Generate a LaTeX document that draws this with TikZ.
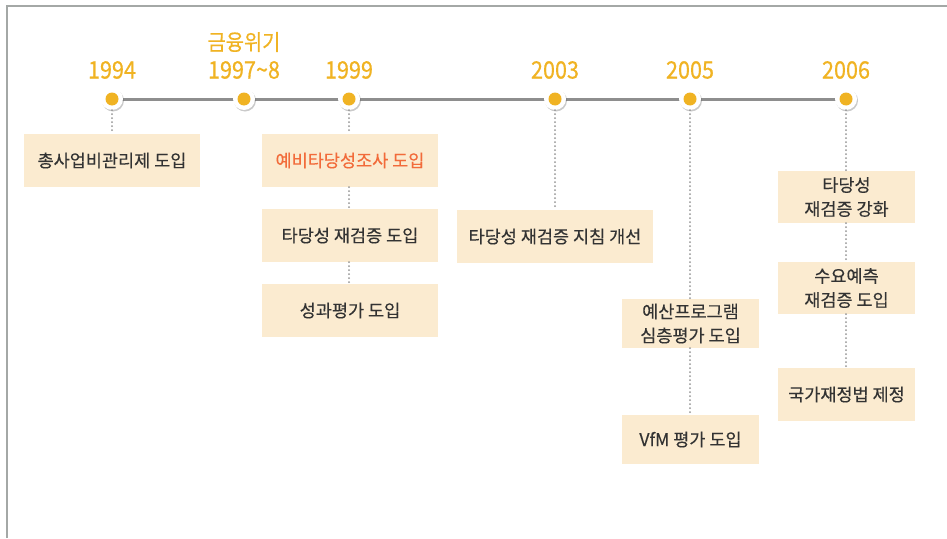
\documentclass[tikz,border=0pt]{standalone}
\usepackage{fontspec}
\setmainfont{Noto Sans CJK KR}
\newfontfamily\yearfont[FakeBold=0.6,FakeStretch=0.9]{Noto Sans CJK KR}
\newfontfamily\boxfont[FakeBold=0.3]{Noto Sans CJK KR}
\usetikzlibrary{shadows}
\definecolor{boxfill}{HTML}{FBEBD0}
\definecolor{gold}{HTML}{F0B323}
\definecolor{txt}{HTML}{333333}
\definecolor{hot}{HTML}{F26B3A}
\definecolor{tline}{HTML}{8E8E8E}
\definecolor{frame}{HTML}{A4A8A6}
\definecolor{dotc}{HTML}{949494}
\tikzset{
  evbox/.style={fill=boxfill, inner sep=0pt, align=center, text=txt,
    font=\boxfont\fontsize{17.5}{24}\selectfont},
  yearlab/.style={text=gold, inner sep=0pt, font=\yearfont\fontsize{24}{24}\selectfont},
  ring/.style={circle, fill=white, minimum size=22pt, inner sep=0pt,
    drop shadow={shadow xshift=1pt, shadow yshift=-1.5pt, opacity=0.35, fill=black!60}},
  dotline/.style={draw=dotc, line width=2pt, line cap=round, dash pattern=on 0pt off 4pt}
}
\begin{document}
\begin{tikzpicture}[x=1pt,y=-1pt]
\useasboundingbox (0,0) rectangle (947,538);
% frame
\draw[frame, line width=1.5pt] (7,538) -- (7,6) -- (947,6);
% timeline
\coordinate (p1) at (112,99);
\coordinate (p2) at (244,99);
\coordinate (p3) at (349,99);
\coordinate (p4) at (555,99);
\coordinate (p5) at (690,99);
\coordinate (p6) at (846,99);
\draw[tline, line width=3pt] (p1) -- (p6);
\foreach \i in {1,...,6}{
  \node[ring] (c\i) at (p\i) {};
  \fill[gold] (c\i.center) circle (6.5pt);
}
% year labels
\node[yearlab] (y1) at (112,70) {1994};
\node[yearlab] (y2) at (244,70) {1997\char"007E 8};
\node[yearlab, font=\yearfont\fontsize{22}{24}\selectfont] (y2b) at (244,42) {금융위기};
\node[yearlab] (y3) at (349,70) {1999};
\node[yearlab] (y4) at (555,70) {2003};
\node[yearlab] (y5) at (690,70) {2005};
\node[yearlab] (y6) at (846,70) {2006};
% boxes
\node[evbox, minimum width=176pt, minimum height=53pt] (b1) at (112,160.5) {총사업비관리제 도입};
\node[evbox, minimum width=176pt, minimum height=53pt, text=hot] (b2) at (350,160.5) {예비타당성조사 도입};
\node[evbox, minimum width=176pt, minimum height=53pt] (b3) at (350,235.5) {타당성 재검증 도입};
\node[evbox, minimum width=176pt, minimum height=53pt] (b4) at (350,310.5) {성과평가 도입};
\node[evbox, minimum width=196pt, minimum height=53pt] (b5) at (555,236.5) {타당성 재검증 지침 개선};
\node[evbox, minimum width=137pt, minimum height=49pt] (b6) at (690.5,323.5) {예산프로그램\\심층평가 도입};
\node[evbox, minimum width=137pt, minimum height=49pt] (b7) at (690.5,439.5) {VfM 평가 도입};
\node[evbox, minimum width=137pt, minimum height=52pt] (b8) at (846.5,197) {타당성\\재검증 강화};
\node[evbox, minimum width=137pt, minimum height=52pt] (b9) at (846.5,288) {수요예측\\재검증 도입};
\node[evbox, minimum width=137pt, minimum height=53pt] (b10) at (846.5,394.5) {국가재정법 제정};
% connectors
\draw[dotline] (c1.south) -- (c1.south |- b1.north);
\draw[dotline] (c3.south) -- (c3.south |- b2.north);
\draw[dotline] (c3 |- b2.south) -- (c3 |- b3.north);
\draw[dotline] (c3 |- b3.south) -- (c3 |- b4.north);
\draw[dotline] (c4.south) -- (c4.south |- b5.north);
\draw[dotline] (c5.south) -- (c5.south |- b6.north);
\draw[dotline] (c5 |- b6.south) -- (c5 |- b7.north);
\draw[dotline] (c6.south) -- (c6.south |- b8.north);
\draw[dotline] (c6 |- b8.south) -- (c6 |- b9.north);
\draw[dotline] (c6 |- b9.south) -- (c6 |- b10.north);
\end{tikzpicture}
\end{document}
